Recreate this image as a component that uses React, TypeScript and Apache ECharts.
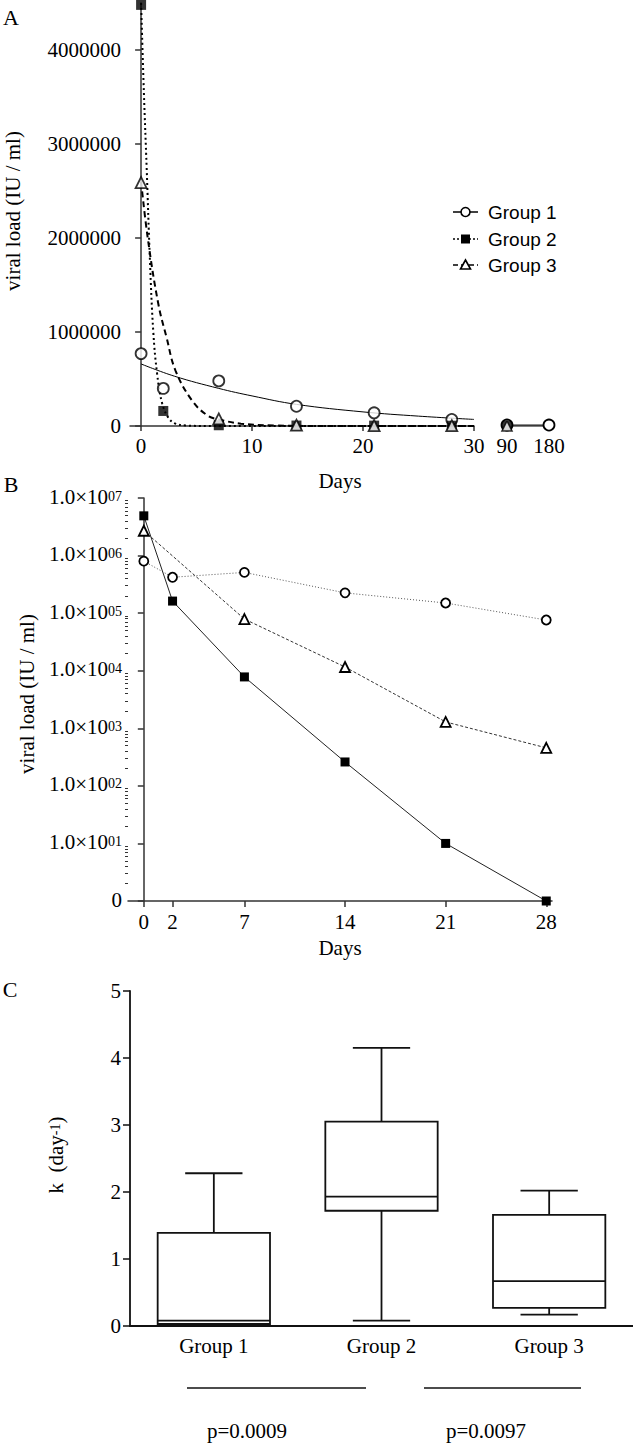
import React, { useEffect, useRef } from "react";
import * as echarts from "echarts";

// ---------- Panel A (linear) ----------
const daysA = [0, 2, 7, 14, 21, 28];
const group1A = [770000, 400000, 480000, 210000, 140000, 70000];
const group2A = [4480000, 160000, 8000, 5000, 4000, 3000];
const daysA3 = [0, 7, 14, 21, 28];
const group3A = [2590000, 75000, 9000, 4000, 3000];
const tailDays = [90, 180];
const group1Tail = [10000, 10000];
const group2Tail = [0];
const group3Tail = [0];
const fit1Days = [0, 3, 7, 10, 14, 20, 25, 30];
const fit1 = [660000, 530000, 400000, 320000, 230000, 150000, 105000, 70000];
const fit2Days = [0, 0.25, 0.5, 0.8, 1.1, 1.45, 1.9, 2.5, 3.1, 4, 6, 30];
const fit2 = [4500000, 3550000, 2750000, 1750000, 1000000, 550000, 240000, 80000, 25000, 6000, 0, 0];
const fit3Days = [0, 0.6, 1.55, 2.3, 3.1, 4.6, 6, 7, 9, 12, 16, 30];
const fit3 = [2600000, 2000000, 1300000, 940000, 590000, 270000, 110000, 70000, 25000, 6000, 1000, 0];
const yTicksA = [0, 1000000, 2000000, 3000000, 4000000];
const xTicksA = [0, 10, 20, 30];
const xTicksTail = [90, 180];

// ---------- Panel B (log) ----------
const daysB = [0, 2, 7, 14, 21, 28];
const group1B = [800000, 420000, 510000, 225000, 150000, 76000];
const group2B = [4900000, 162000, 7800, 260, 10, 1];
const daysB3 = [0, 7, 14, 21, 28];
const group3B = [2700000, 79000, 11600, 1290, 457];
const xTicksB = [0, 2, 7, 14, 21, 28];
const yTicksB = [1, 10, 100, 1000, 10000, 100000, 1000000, 10000000];
const minorTicksB = [
  2, 3, 4, 5, 6, 7, 8, 9,
  20, 30, 40, 50, 60, 70, 80, 90,
  200, 300, 400, 500, 600, 700, 800, 900,
  2000, 3000, 4000, 5000, 6000, 7000, 8000, 9000,
  20000, 30000, 40000, 50000, 60000, 70000, 80000, 90000,
  200000, 300000, 400000, 500000, 600000, 700000, 800000, 900000,
  2000000, 3000000, 4000000, 5000000, 6000000, 7000000, 8000000, 9000000,
];

// ---------- Panel C (box plot) ----------
const groups = ["Group 1", "Group 2", "Group 3"];
const boxMin = [0.01, 0.08, 0.17];
const boxQ1 = [0.03, 1.72, 0.27];
const boxMedian = [0.08, 1.93, 0.67];
const boxQ3 = [1.39, 3.05, 1.66];
const boxMax = [2.28, 4.15, 2.02];
const pValues = ["p=0.0009", "p=0.0097"];

const SERIF = '"Liberation Serif", "Times New Roman", serif';
const SANS = '"Liberation Sans", Arial, sans-serif';
const AX = "#333";
const FS = 21;

const zip = (xs: number[], ys: number[]) => xs.map((x, i) => [x, ys[i]]);

function buildOption(): any {
  const labelBase = { color: "#000", fontFamily: SERIF, fontSize: FS };
  const axLine = { lineStyle: { color: AX, width: 1.5 } };

  const sup = (n: number) => {
    const e = Math.round(Math.log10(n));
    if (e === 0) return "{m|0}";
    return `{m|1.0×10}{s|${String(e).padStart(2, "0")}}`;
  };

  const boxData = groups.map((_, i) => [i, boxMin[i], boxQ1[i], boxMedian[i], boxQ3[i], boxMax[i]]);

  const legendItems = [
    { name: "Group 1", y: 212, dash: null as any, sym: "circle" },
    { name: "Group 2", y: 239, dash: [2, 2], sym: "square" },
    { name: "Group 3", y: 265, dash: [5, 3], sym: "triangle" },
  ];
  const legendGraphics: any[] = [];
  legendItems.forEach((it) => {
    legendGraphics.push({
      type: "line",
      shape: { x1: 453, y1: it.y, x2: 478, y2: it.y },
      style: { stroke: "#000", lineWidth: 1.5, lineDash: it.dash || undefined },
    });
    if (it.sym === "circle") {
      legendGraphics.push({ type: "circle", shape: { cx: 465.5, cy: it.y, r: 4.5 }, style: { fill: "#fff", stroke: "#000", lineWidth: 1.6 } });
    } else if (it.sym === "square") {
      legendGraphics.push({ type: "rect", shape: { x: 461, y: it.y - 4.5, width: 9, height: 9 }, style: { fill: "#000" } });
    } else {
      legendGraphics.push({
        type: "polygon",
        shape: { points: [[465.5, it.y - 5], [470.5, it.y + 4], [460.5, it.y + 4]] },
        style: { fill: "#fff", stroke: "#000", lineWidth: 1.6 },
      });
    }
    legendGraphics.push({
      type: "text",
      x: 488,
      y: it.y,
      style: { text: it.name, fontFamily: SANS, fontSize: 19, fill: "#000", align: "left", verticalAlign: "middle" },
    });
  });

  const text = (t: string, x: number, y: number, extra: any = {}, el: any = {}) => ({
    type: "text",
    x,
    y,
    ...el,
    style: { text: t, fontFamily: SERIF, fontSize: FS, fill: "#000", align: "center", verticalAlign: "middle", ...extra },
  });

  return {
    animation: false,
    backgroundColor: "#fff",
    textStyle: { fontFamily: SERIF },
    grid: [
      { left: 130, top: 3, width: 344, height: 423, outerBoundsMode: "none" },
      { left: 507, top: 3, width: 42, height: 423, outerBoundsMode: "none" },
      { left: 128, top: 498, width: 424, height: 403, outerBoundsMode: "none" },
      { left: 130, top: 991, width: 503, height: 335, outerBoundsMode: "none" },
    ],
    xAxis: [
      {
        gridIndex: 0, type: "value", min: -1, max: 30,
        splitLine: { show: false },
        axisLine: { onZero: false, ...axLine },
        axisTick: { customValues: xTicksA, length: 5, lineStyle: { color: AX, width: 1.5 } },
        axisLabel: { customValues: xTicksA, margin: 9, ...labelBase },
      },
      {
        gridIndex: 1, type: "value", min: 90, max: 180,
        splitLine: { show: false },
        axisLine: { show: false },
        axisTick: { show: false },
        axisLabel: { customValues: xTicksTail, margin: 9, ...labelBase },
      },
      {
        gridIndex: 2, type: "value", min: -1.1, max: 28.4,
        splitLine: { show: false },
        axisLine: { onZero: false, ...axLine },
        axisTick: { customValues: xTicksB, length: 6, lineStyle: { color: AX, width: 1.5 } },
        axisLabel: { customValues: xTicksB, margin: 10, ...labelBase },
      },
      {
        gridIndex: 3, type: "category", data: groups,
        axisLine: { onZero: false, lineStyle: { color: "#111", width: 1.8 } },
        axisTick: { show: false },
        axisLabel: { margin: 9, ...labelBase },
      },
    ],
    yAxis: [
      {
        gridIndex: 0, type: "value", min: 0, max: 4500000,
        splitLine: { show: false },
        axisLine: { show: true, ...axLine },
        axisTick: { show: true, customValues: yTicksA, length: 6, lineStyle: { color: AX, width: 1.5 } },
        axisLabel: { customValues: yTicksA, margin: 9, formatter: (v: number) => String(v), ...labelBase },
      },
      { gridIndex: 1, type: "value", min: 0, max: 4500000, show: false },
      {
        gridIndex: 2, type: "log", logBase: 10, min: 1, max: 10000000, position: "left",
        splitLine: { show: false },
        axisLine: { show: true, ...axLine },
        axisTick: { show: true, customValues: yTicksB, length: 6, lineStyle: { color: AX, width: 1.5 } },
        axisLabel: {
          customValues: yTicksB, margin: 6, ...labelBase,
          formatter: (v: number) => sup(v),
          rich: {
            m: { fontFamily: SERIF, fontSize: FS, lineHeight: 18, verticalAlign: "bottom", color: "#000" },
            s: { fontFamily: SERIF, fontSize: 14, lineHeight: 12, padding: [0, 0, 12, 0], verticalAlign: "top", color: "#000" },
          },
        },
      },
      {
        gridIndex: 2, type: "log", logBase: 10, min: 1, max: 10000000, position: "left", offset: 0,
        splitLine: { show: false },
        axisLine: { show: false },
        axisLabel: { show: false },
        axisTick: { show: true, customValues: minorTicksB, length: 3, lineStyle: { color: AX, width: 1 } },
      },
      {
        gridIndex: 3, type: "value", min: 0, max: 5, interval: 1,
        splitLine: { show: false },
        axisLine: { show: true, lineStyle: { color: "#111", width: 1.8 } },
        axisTick: { show: true, length: 7, lineStyle: { color: "#111", width: 1.5 } },
        axisLabel: { margin: 9, ...labelBase },
      },
    ],
    series: [
      // Panel A fits
      {
        type: "line", name: "Group 1 fit", xAxisIndex: 0, yAxisIndex: 0, data: zip(fit1Days, fit1),
        smooth: 0.4, showSymbol: false, lineStyle: { color: "#000", width: 1 }, z: 2,
      },
      {
        type: "line", name: "Group 2 fit", xAxisIndex: 0, yAxisIndex: 0, data: zip(fit2Days, fit2),
        smooth: 0.4, showSymbol: false, lineStyle: { color: "#000", width: 2, type: [2, 3] }, z: 2,
      },
      {
        type: "line", name: "Group 3 fit", xAxisIndex: 0, yAxisIndex: 0, data: zip(fit3Days, fit3),
        smooth: 0.4, showSymbol: false, lineStyle: { color: "#000", width: 2, type: [6, 4] }, z: 2,
      },
      // Panel A points
      {
        type: "scatter", name: "Group 1", xAxisIndex: 0, yAxisIndex: 0, data: zip(daysA, group1A),
        symbol: "circle", symbolSize: 11, itemStyle: { color: "#fff", borderColor: "#000", borderWidth: 1.8 }, z: 4,
      },
      {
        type: "scatter", name: "Group 2", xAxisIndex: 0, yAxisIndex: 0, data: zip(daysA, group2A),
        symbol: "rect", symbolSize: 10, itemStyle: { color: "#000" }, z: 5,
      },
      {
        type: "scatter", name: "Group 3", xAxisIndex: 0, yAxisIndex: 0, data: zip(daysA3, group3A),
        symbol: "triangle", symbolSize: 11, itemStyle: { color: "#fff", borderColor: "#000", borderWidth: 1.8 }, z: 6,
      },
      // Panel A tail (days 90, 180)
      {
        type: "line", name: "Group 3 tail", xAxisIndex: 1, yAxisIndex: 1, data: zip(tailDays, [0, 0]),
        showSymbol: false, clip: false, lineStyle: { color: "#000", width: 1 }, z: 2,
      },
      {
        type: "line", name: "Group 1 tail", xAxisIndex: 1, yAxisIndex: 1, data: zip(tailDays, group1Tail),
        symbol: "circle", symbolSize: 11, clip: false,
        itemStyle: { color: "#fff", borderColor: "#000", borderWidth: 1.8 }, lineStyle: { color: "#000", width: 1 }, z: 4,
      },
      {
        type: "scatter", name: "Group 2 tail", xAxisIndex: 1, yAxisIndex: 1, data: zip([90], group2Tail),
        symbol: "rect", symbolSize: 10, clip: false, itemStyle: { color: "#000" }, z: 5,
      },
      {
        type: "scatter", name: "Group 3 tail", xAxisIndex: 1, yAxisIndex: 1, data: zip([90], group3Tail),
        symbol: "triangle", symbolSize: 10, clip: false, itemStyle: { color: "#fff", borderColor: "#000", borderWidth: 1.6 }, z: 6,
      },
      // Panel B
      {
        type: "line", name: "Group 1 (log)", xAxisIndex: 2, yAxisIndex: 2, data: zip(daysB, group1B),
        symbol: "circle", symbolSize: 9, clip: false,
        itemStyle: { color: "#fff", borderColor: "#000", borderWidth: 1.8 },
        lineStyle: { color: "#555", width: 1, type: [1, 2] }, z: 3,
      },
      {
        type: "line", name: "Group 2 (log)", xAxisIndex: 2, yAxisIndex: 2, data: zip(daysB, group2B),
        symbol: "rect", symbolSize: 9, clip: false,
        itemStyle: { color: "#000" }, lineStyle: { color: "#222", width: 1 }, z: 4,
      },
      {
        type: "line", name: "Group 3 (log)", xAxisIndex: 2, yAxisIndex: 2, data: zip(daysB3, group3B),
        symbol: "triangle", symbolSize: 10, clip: false,
        itemStyle: { color: "#fff", borderColor: "#000", borderWidth: 1.8 },
        lineStyle: { color: "#333", width: 1, type: [3, 2] }, z: 5,
      },
      // Panel C
      {
        type: "custom", name: "k", xAxisIndex: 3, yAxisIndex: 4, data: boxData,
        encode: { x: 0, y: [1, 2, 3, 4, 5] },
        renderItem: (params: any, api: any) => {
          const idx = api.value(0);
          const pMin = api.coord([idx, api.value(1)]);
          const pQ1 = api.coord([idx, api.value(2)]);
          const pMed = api.coord([idx, api.value(3)]);
          const pQ3 = api.coord([idx, api.value(4)]);
          const pMax = api.coord([idx, api.value(5)]);
          const band = api.size([1, 0])[0];
          const bw = band * 0.67;
          const cw = bw * 0.51;
          const cx = pMed[0];
          const st = { stroke: "#111", lineWidth: 1.8, fill: "none" };
          return {
            type: "group",
            children: [
              { type: "line", shape: { x1: cx, y1: pQ3[1], x2: cx, y2: pMax[1] }, style: st },
              { type: "line", shape: { x1: cx - cw / 2, y1: pMax[1], x2: cx + cw / 2, y2: pMax[1] }, style: st },
              { type: "line", shape: { x1: cx, y1: pQ1[1], x2: cx, y2: pMin[1] }, style: st },
              { type: "line", shape: { x1: cx - cw / 2, y1: pMin[1], x2: cx + cw / 2, y2: pMin[1] }, style: st },
              { type: "rect", shape: { x: cx - bw / 2, y: pQ3[1], width: bw, height: pQ1[1] - pQ3[1] }, style: { stroke: "#111", lineWidth: 1.8, fill: "#fff" } },
              { type: "line", shape: { x1: cx - bw / 2, y1: pMed[1], x2: cx + bw / 2, y2: pMed[1] }, style: st },
            ],
          };
        },
        z: 3,
      },
    ],
    graphic: [
      text("A", 11, 17, { fontSize: 22 }),
      text("B", 11, 484, { fontSize: 22 }),
      text("C", 10, 989, { fontSize: 22 }),
      text("viral load (IU / ml)", 13, 211, {}, { rotation: Math.PI / 2 }),
      text("viral load (IU / ml)", 27, 694, {}, { rotation: Math.PI / 2 }),
      {
        type: "text", x: 57, y: 1155, rotation: Math.PI / 2,
        style: {
          text: "{a|k  (day}{s|-1}{a|)}",
          align: "center", verticalAlign: "middle", fill: "#000",
          rich: {
            a: { fontFamily: SERIF, fontSize: FS, lineHeight: 18, verticalAlign: "bottom" },
            s: { fontFamily: SERIF, fontSize: 14, lineHeight: 12, padding: [0, 0, 12, 0], verticalAlign: "top" },
          },
        },
      },
      text("Days", 340, 481),
      text("Days", 340, 948),
      ...legendGraphics,
      { type: "line", shape: { x1: 187, y1: 1388, x2: 366, y2: 1388 }, style: { stroke: "#111", lineWidth: 1.5 } },
      { type: "line", shape: { x1: 424, y1: 1388, x2: 581, y2: 1388 }, style: { stroke: "#111", lineWidth: 1.5 } },
      text(pValues[0], 247, 1431),
      text(pValues[1], 486, 1431),
    ],
  };
}

export default function App() {
  const ref = useRef<HTMLDivElement>(null);
  useEffect(() => {
    document.body.style.margin = "0";
    const chart = echarts.init(ref.current!, null, { renderer: "svg" });
    chart.setOption(buildOption());
    return () => chart.dispose();
  }, []);
  return <div ref={ref} style={{ width: 633, height: 1444, background: "#fff" }} />;
}
